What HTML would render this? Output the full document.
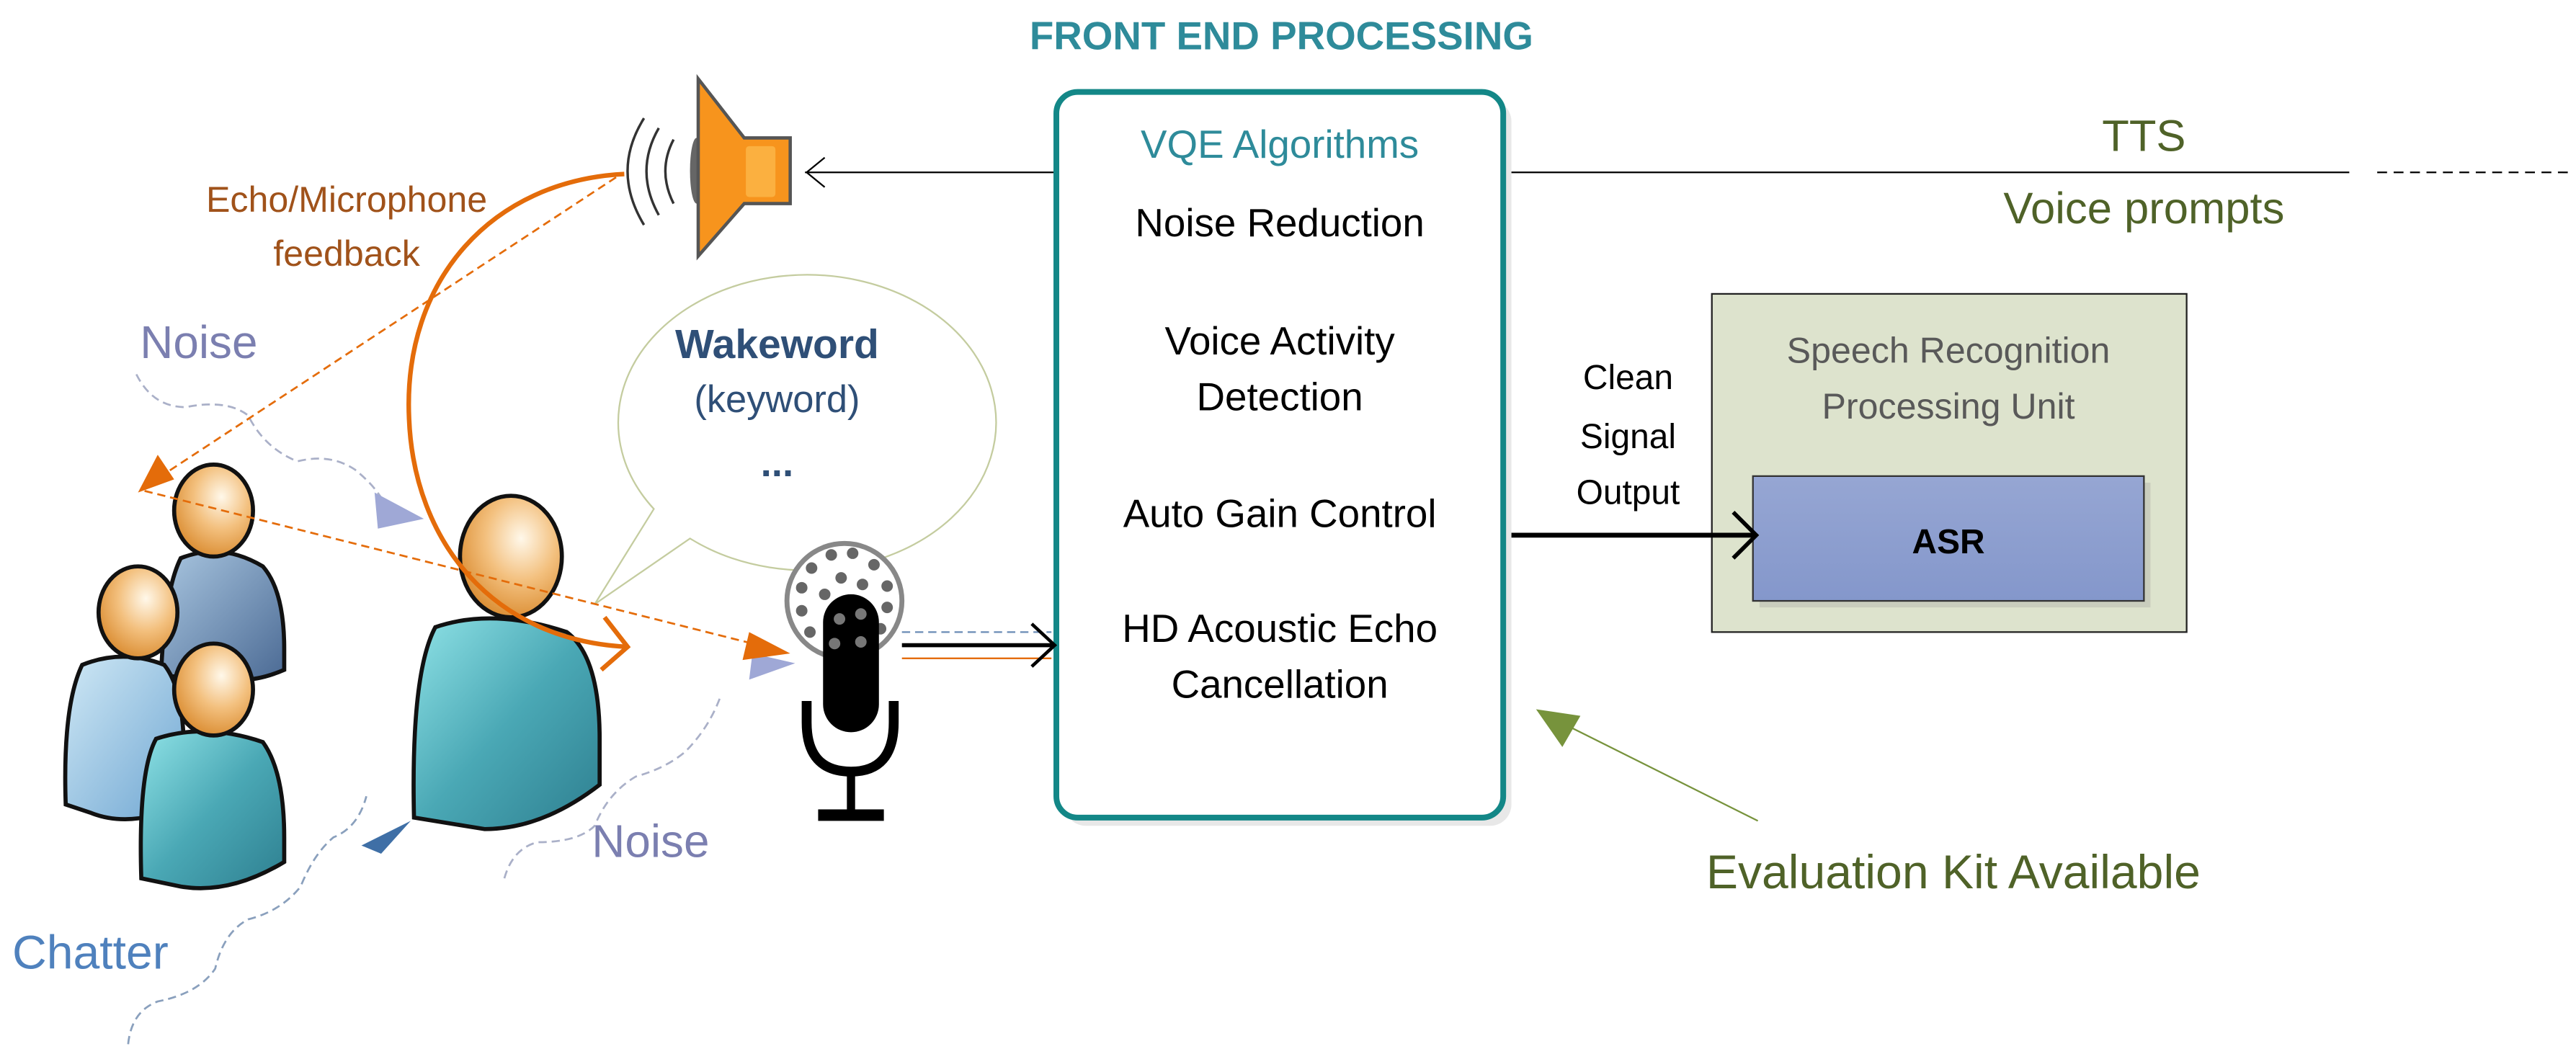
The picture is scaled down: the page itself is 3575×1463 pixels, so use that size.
<!DOCTYPE html>
<html><head><meta charset="utf-8"><style>
html,body{margin:0;padding:0;background:#fff;}
svg{display:block;}
text{font-family:"Liberation Sans",sans-serif;}
</style></head><body>
<svg width="3575" height="1463" viewBox="0 0 1568 642" preserveAspectRatio="none" xmlns="http://www.w3.org/2000/svg">
<defs>
<radialGradient id="head" cx="0.6" cy="0.35" r="0.7"><stop offset="0" stop-color="#fff8ea"/><stop offset="0.5" stop-color="#f3c07e"/><stop offset="1" stop-color="#d98a2e"/></radialGradient>
<linearGradient id="teal" x1="0" y1="0" x2="1" y2="1"><stop offset="0" stop-color="#8fe2e6"/><stop offset="0.5" stop-color="#4aa8b5"/><stop offset="1" stop-color="#2e7f90"/></linearGradient>
<linearGradient id="blue" x1="0" y1="0" x2="1" y2="1"><stop offset="0" stop-color="#cfe8f5"/><stop offset="1" stop-color="#6fa6d2"/></linearGradient>
<linearGradient id="dblue" x1="0" y1="0" x2="1" y2="1"><stop offset="0" stop-color="#a9c6e0"/><stop offset="1" stop-color="#4b6a94"/></linearGradient>
<linearGradient id="asr" x1="0" y1="0" x2="0" y2="1"><stop offset="0" stop-color="#96a6d3"/><stop offset="1" stop-color="#8497cb"/></linearGradient>
</defs>

<text x="780" y="30" text-anchor="middle" font-size="24" font-weight="bold" fill="#2e8b9a">FRONT END PROCESSING</text>

<!-- lines to speaker / TTS -->
<line x1="490" y1="105" x2="643" y2="105" stroke="#000" stroke-width="1"/>
<polyline points="502,96 491,105 502,114" fill="none" stroke="#000" stroke-width="1"/>
<line x1="915" y1="105" x2="1430" y2="105" stroke="#000" stroke-width="1"/>
<line x1="1447" y1="105" x2="1566" y2="105" stroke="#000" stroke-width="1" stroke-dasharray="6,4"/>
<text x="1305" y="92" text-anchor="middle" font-size="27" fill="#4f6228">TTS</text>
<text x="1305" y="136" text-anchor="middle" font-size="27" fill="#4f6228">Voice prompts</text>

<!-- VQE box -->
<rect x="648" y="61" width="272" height="442" rx="13" fill="#e8e8e8"/>
<rect x="643" y="56" width="272" height="442" rx="13" fill="#fff" stroke="#138787" stroke-width="3.5"/>
<text x="779" y="96" text-anchor="middle" font-size="24" fill="#2e8b9a">VQE Algorithms</text>
<g font-size="24" fill="#000" text-anchor="middle">
<text x="779" y="144">Noise Reduction</text>
<text x="779" y="216">Voice Activity</text>
<text x="779" y="250">Detection</text>
<text x="779" y="321">Auto Gain Control</text>
<text x="779" y="391">HD Acoustic Echo</text>
<text x="779" y="425">Cancellation</text>
</g>

<!-- Speech recognition -->
<rect x="1042" y="179" width="289" height="206" fill="#dde3cd" stroke="#222" stroke-width="1"/>
<text x="1186" y="221" text-anchor="middle" font-size="22" fill="#595959">Speech Recognition</text>
<text x="1186" y="255" text-anchor="middle" font-size="22" fill="#595959">Processing Unit</text>
<rect x="1071" y="294" width="238" height="76" fill="#c9cdbd"/>
<rect x="1067" y="290" width="238" height="76" fill="url(#asr)" stroke="#333" stroke-width="1"/>
<text x="1186" y="337" text-anchor="middle" font-size="21" font-weight="bold" fill="#000">ASR</text>

<g font-size="21" fill="#000" text-anchor="middle">
<text x="991" y="237">Clean</text>
<text x="991" y="273">Signal</text>
<text x="991" y="307">Output</text>
</g>
<line x1="920" y1="326" x2="1068" y2="326" stroke="#000" stroke-width="3"/>
<polyline points="1055,312 1069,326 1055,340" fill="none" stroke="#000" stroke-width="2.5"/>

<!-- evaluation kit -->
<line x1="1070" y1="500" x2="950" y2="440" stroke="#77933c" stroke-width="1"/>
<polygon points="935,432 962,436 951,455" fill="#77933c"/>
<text x="1189" y="541" text-anchor="middle" font-size="29" fill="#4f6228">Evaluation Kit Available</text>

<!-- speaker -->
<path d="M392,72 Q372,104 392,137" fill="none" stroke="#333" stroke-width="1.5"/>
<path d="M401,78 Q386,104 401,131" fill="none" stroke="#333" stroke-width="1.5"/>
<path d="M410,85 Q400,104 410,124" fill="none" stroke="#333" stroke-width="1.5"/>
<ellipse cx="424" cy="104" rx="4" ry="20" fill="#666"/>
<polygon points="425,48 453,84 481,84 481,124 453,124 425,156" fill="#f7941d" stroke="#555" stroke-width="2"/>
<rect x="454" y="89" width="18" height="31" rx="2" fill="#fbb040"/>

<text x="211" y="129" text-anchor="middle" font-size="22" fill="#a0521a">Echo/Microphone</text>
<text x="211" y="162" text-anchor="middle" font-size="22" fill="#a0521a">feedback</text>

<!-- bubble -->
<path d="M398,310 A115,90 0 1 1 420,328 L362,368 Z" fill="#fff" stroke="#c4cc9f" stroke-width="1"/>
<text x="473" y="218" text-anchor="middle" font-size="25" font-weight="bold" fill="#2f4f77">Wakeword</text>
<text x="473" y="251" text-anchor="middle" font-size="23" fill="#2f4f77">(keyword)</text>
<text x="473" y="290" text-anchor="middle" font-size="24" font-weight="bold" fill="#2f4f77">...</text>

<!-- noise waves -->
<path d="M83,228 q10,20 30,20 q25,-5 38,5 q10,20 30,28 q20,-5 35,5 q15,12 20,25" fill="none" stroke="#aab0c8" stroke-width="1.2" stroke-dasharray="5,3"/>
<polygon points="228,300 258,316 230,322" fill="#9fa8d6"/>
<path d="M307,535 q5,-18 20,-22 q25,0 35,-10 q8,-20 25,-30 q18,-5 30,-15 q15,-15 22,-35" fill="none" stroke="#aab0c8" stroke-width="1.2" stroke-dasharray="5,3"/>
<polygon points="456,414 484,404 458,398" fill="#9fa8d6"/>
<path d="M78,636 q2,-20 18,-26 q25,-5 35,-20 q5,-22 20,-30 q20,-5 32,-20 q8,-20 20,-30 q15,-6 20,-25" fill="none" stroke="#8aa0bd" stroke-width="1.2" stroke-dasharray="5,3"/>
<polygon points="220,515 250,500 232,520" fill="#3f6fa6"/>

<text x="121" y="218" text-anchor="middle" font-size="28" fill="#7b7fb0">Noise</text>
<text x="396" y="522" text-anchor="middle" font-size="28" fill="#7b7fb0">Noise</text>
<text x="55" y="590" text-anchor="middle" font-size="29" fill="#4f81bd">Chatter</text>

<!-- people -->
<g stroke="#111" stroke-width="2.5">
<path d="M110,340 Q135,330 160,345 Q173,360 173,395 L173,408 Q150,418 130,412 L98,412 Q100,360 110,340 Z" fill="url(#dblue)"/>
<ellipse cx="130" cy="311" rx="24" ry="28" fill="url(#head)"/>
<path d="M50,405 Q75,395 100,405 Q112,420 112,460 L112,490 Q80,505 55,495 L40,490 Q38,430 50,405 Z" fill="url(#blue)"/>
<ellipse cx="84" cy="373" rx="24" ry="28" fill="url(#head)"/>
<path d="M95,450 Q125,440 160,452 Q173,470 173,510 L173,525 Q140,545 110,540 L86,535 Q84,470 95,450 Z" fill="url(#teal)"/>
<ellipse cx="130" cy="420" rx="24" ry="28" fill="url(#head)"/>
<path d="M265,382 Q300,370 345,385 Q365,400 365,450 L365,478 Q330,505 295,505 L252,498 Q250,410 265,382 Z" fill="url(#teal)"/>
<ellipse cx="311" cy="339" rx="31" ry="37" fill="url(#head)"/>
</g>

<!-- orange echo lines -->
<line x1="375" y1="108" x2="92" y2="294" stroke="#e46c0a" stroke-width="1.2" stroke-dasharray="5,3"/>
<polygon points="84,300 96,277 106,292" fill="#e46c0a"/>
<line x1="88" y1="299" x2="470" y2="395" stroke="#e46c0a" stroke-width="1.2" stroke-dasharray="5,3"/>
<polygon points="481,398 456,385 452,402" fill="#e46c0a"/>
<path d="M380,106 C300,110 245,170 249,255 C252,330 300,390 382,394" fill="none" stroke="#e46c0a" stroke-width="2.8"/>
<polyline points="368,376 382,394 366,408" fill="none" stroke="#e46c0a" stroke-width="2.8"/>

<!-- mic -->
<line x1="549" y1="385" x2="640" y2="385" stroke="#6a8bb5" stroke-width="1" stroke-dasharray="5,3"/>
<line x1="549" y1="401" x2="640" y2="401" stroke="#e46c0a" stroke-width="1"/>
<line x1="549" y1="393" x2="641" y2="393" stroke="#000" stroke-width="2.5"/>
<polyline points="628,380 642,393 628,406" fill="none" stroke="#000" stroke-width="2"/>
<circle cx="514" cy="366" r="35" fill="#fff" stroke="#888" stroke-width="3"/>
<g fill="#666">
<circle cx="494" cy="346" r="3.5"/><circle cx="506" cy="338" r="3.5"/><circle cx="519" cy="337" r="3.5"/><circle cx="532" cy="344" r="3.5"/>
<circle cx="488" cy="358" r="3.5"/><circle cx="512" cy="352" r="3.5"/><circle cx="525" cy="356" r="3.5"/><circle cx="540" cy="357" r="3.5"/>
<circle cx="488" cy="372" r="3.5"/><circle cx="502" cy="362" r="3.5"/><circle cx="540" cy="370" r="3.5"/><circle cx="493" cy="385" r="3.5"/><circle cx="536" cy="383" r="3.5"/>
</g>
<rect x="501" y="362" width="34" height="84" rx="17" fill="#000"/>
<g fill="#777"><circle cx="511" cy="377" r="3.5"/><circle cx="524" cy="374" r="3.5"/><circle cx="508" cy="392" r="3.5"/><circle cx="524" cy="391" r="3.5"/></g>
<path d="M491,427 L491,440 Q491,470 518,470 Q544,470 544,440 L544,427" fill="none" stroke="#000" stroke-width="6"/>
<line x1="518" y1="470" x2="518" y2="494" stroke="#000" stroke-width="5"/>
<rect x="498" y="493" width="40" height="7" fill="#000"/>
</svg>
</body></html>
